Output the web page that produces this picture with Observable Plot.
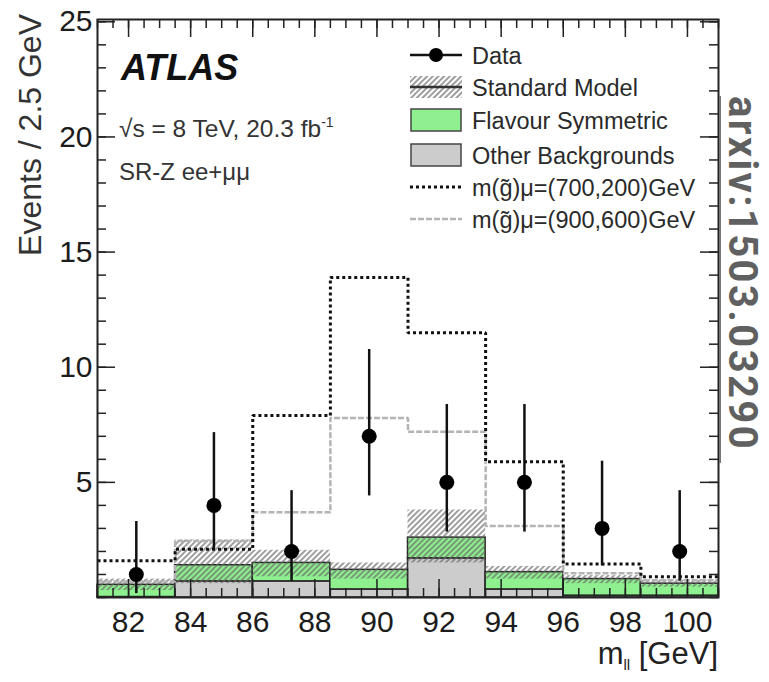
<!DOCTYPE html>
<html><head><meta charset="utf-8">
<script src="https://cdn.jsdelivr.net/npm/d3@7"></script>
<script src="https://cdn.jsdelivr.net/npm/@observablehq/plot@0.6"></script>
<style>
body{margin:0;background:#fff;}
#wrap{position:relative;width:769px;height:682px;font-family:"Liberation Sans",Arial,sans-serif;color:#1c1c1c;overflow:hidden;}
.abs{position:absolute;white-space:nowrap;line-height:1;}
.leg{position:absolute;left:410px;height:24px;width:300px;}
.leg svg{position:absolute;left:0;top:0;}
.leg span{position:absolute;left:62px;top:0px;font-size:23.5px;color:#2a2a2a;white-space:nowrap;}
</style></head><body><div id="wrap"></div>
<script>
// ---- data ----
const binEdges   = [81, 83.5, 86, 88.5, 91, 93.5, 96, 98.5, 101];
const binCenters = [82.25, 84.75, 87.25, 89.75, 92.25, 94.75, 97.25, 99.75];
const dataCounts = [1, 4, 2, 7, 5, 5, 3, 2];
const dataLow    = [0.17, 2.09, 0.71, 4.41, 2.84, 2.84, 1.37, 0.71];
const dataHigh   = [3.3, 7.16, 4.64, 10.77, 8.38, 8.38, 5.92, 4.64];
const otherBkg   = [0.02, 0.7, 0.7, 0.35, 1.7, 0.35, 0.08, 0.08];
const flavourSym = [0.53, 0.7, 0.8, 0.85, 0.9, 0.75, 0.72, 0.52];
const smLow      = [0.3, 0.6, 0.9, 0.8, 1.5, 0.8, 0.6, 0.45];
const smHigh     = [0.8, 2.5, 2.05, 1.5, 3.8, 1.35, 0.95, 0.75];
const sig700     = [1.6, 2.1, 7.9, 13.9, 11.5, 5.9, 1.45, 0.9];
const sig900     = [0.7, 2.45, 3.7, 7.8, 7.2, 3.1, 1.05, 0.75];
const xTickLabels = [82, 84, 86, 88, 90, 92, 94, 96, 98, 100];
const yTickLabels = [5, 10, 15, 20, 25];

// ---- tables built from the arrays ----
const bins = binCenters.map((c, i) => ({
  c, x1: binEdges[i], x2: binEdges[i + 1],
  other: otherBkg[i], total: otherBkg[i] + flavourSym[i],
  lo: dataLow[i], hi: dataHigh[i], n: dataCounts[i],
  smLo: smLow[i], smHi: smHigh[i]
}));
const steps = binEdges.map((e, i) => ({
  x: e,
  s700: sig700[Math.min(i, sig700.length - 1)],
  s900: sig900[Math.min(i, sig900.length - 1)]
}));

const W = 769, H = 682, mL = 97, mR = 51, mT = 19, mB = 85;
const fW = W - mL - mR, fH = H - mT - mB;
const majLen = 18, minLen = 9;
const xMinor = d3.range(81, 101.001, 0.5);
const yMinor = d3.range(0, 25.001, 1);
const tickStyle = {stroke: "#222", strokeWidth: 1.5};

const chart = Plot.plot({
  width: W, height: H,
  marginLeft: mL, marginRight: mR, marginTop: mT, marginBottom: mB,
  x: {domain: [81, 101]},
  y: {domain: [0, 25.1]},
  style: {fontFamily: "Liberation Sans, Arial, sans-serif", fontSize: "30px", color: "#1c1c1c", background: "transparent"},
  marks: [
    Plot.rectY(bins, {x1: "x1", x2: "x2", y1: 0, y2: "other", fill: "#cccccc", stroke: "#222", strokeWidth: 1.5}),
    Plot.rectY(bins, {x1: "x1", x2: "x2", y1: "other", y2: "total", fill: "#8ef08e", stroke: "#222", strokeWidth: 1.5}),
    Plot.rectY(bins, {x1: "x1", x2: "x2", y1: "smLo", y2: "smHi", fill: "url(#hatch)"}),
    Plot.line(steps, {x: "x", y: "s900", curve: "step-after", stroke: "#b4b4b4", strokeWidth: 2.5, strokeDasharray: "6,2", strokeLinecap: "butt", strokeLinejoin: "miter"}),
    Plot.line(steps, {x: "x", y: "s700", curve: "step-after", stroke: "#111", strokeWidth: 3, strokeDasharray: "3,3", strokeLinecap: "butt", strokeLinejoin: "miter"}),
    Plot.ruleX(bins, {x: "c", y1: "lo", y2: "hi", stroke: "#111", strokeWidth: 2.5}),
    Plot.dot(bins, {x: "c", y: "n", r: 7.5, fill: "#000"}),
    // inward ticks (ROOT style) on all four sides
    Plot.tickX(xMinor, {x: d => d, insetTop: fH - minLen, ...tickStyle}),
    Plot.tickX(xMinor, {x: d => d, insetBottom: fH - minLen, ...tickStyle}),
    Plot.tickX(xTickLabels, {x: d => d, insetTop: fH - majLen, ...tickStyle}),
    Plot.tickX(xTickLabels, {x: d => d, insetBottom: fH - majLen, ...tickStyle}),
    Plot.tickY(yMinor, {y: d => d, insetRight: fW - minLen, ...tickStyle}),
    Plot.tickY(yMinor, {y: d => d, insetLeft: fW - minLen, ...tickStyle}),
    Plot.tickY(yTickLabels, {y: d => d, insetRight: fW - majLen, ...tickStyle}),
    Plot.tickY(yTickLabels, {y: d => d, insetLeft: fW - majLen, ...tickStyle}),
    Plot.axisX({ticks: xTickLabels, tickSize: 0, tickPadding: 13, label: null, tickFormat: d => String(d), fontSize: 30}),
    Plot.axisY({ticks: yTickLabels, tickSize: 0, tickPadding: 5, label: null, tickFormat: d => String(d), fontSize: 30}),
    Plot.frame({stroke: "#222", strokeWidth: 2})
  ]
});

// hatch pattern for the SM uncertainty band
const svgSel = d3.select(chart);
const defs = svgSel.insert("defs", ":first-child");
const pat = defs.append("pattern").attr("id", "hatch").attr("patternUnits", "userSpaceOnUse")
  .attr("width", 4).attr("height", 4).attr("patternTransform", "rotate(45)");
pat.append("line").attr("x1", 1).attr("y1", 0).attr("x2", 1).attr("y2", 4)
  .attr("stroke", "#6a6a6a").attr("stroke-width", 1.3);

const wrap = document.getElementById("wrap");
chart.style.position = "absolute"; chart.style.left = "0"; chart.style.top = "0";
wrap.appendChild(chart);

function addDiv(html, css) {
  const d = document.createElement("div");
  d.className = "abs"; d.innerHTML = html; d.style.cssText += css;
  wrap.appendChild(d); return d;
}
// annotations
addDiv("ATLAS", "left:121px;top:50px;font-size:36px;font-weight:bold;font-style:italic;color:#111;");
addDiv("√s = 8 TeV, 20.3 fb<sup style='font-size:14px;vertical-align:10px'>-1</sup>", "left:119px;top:115px;font-size:24.5px;color:#333;");
addDiv("SR-Z ee+μμ", "left:119px;top:160px;font-size:24px;color:#333;");
addDiv("Events / 2.5 GeV", "left:30px;top:14px;font-size:32px;color:#333;transform-origin:0 0;transform:rotate(-90deg) translate(-100%,-50%);");
addDiv("m<sub style='font-size:15px;vertical-align:-6px'>ll</sub> [GeV]", "right:51px;top:638px;font-size:31px;color:#222;");
addDiv("arxiv:1503.03290", "left:722px;top:96px;width:40px;line-height:40px;font-size:40px;letter-spacing:2.4px;font-weight:bold;font-family:Roboto,'Liberation Sans',sans-serif;color:#606060;writing-mode:vertical-rl;");
addDiv("", "left:719px;top:96px;width:2px;height:367px;background:#777;");

// legend
const legendLabels = ["Data", "Standard Model", "Flavour Symmetric", "Other Backgrounds",
  "m(g̃)μ=(700,200)GeV", "m(g̃)μ=(900,600)GeV"];
const legendTops = [43, 75, 108, 143, 175, 207];
const swatches = [
  `<line x1="0" y1="12" x2="52" y2="12" stroke="#111" stroke-width="2.5"/><circle cx="26" cy="12" r="7" fill="#000"/>`,
  `<defs><pattern id="hatchL" patternUnits="userSpaceOnUse" width="4" height="4" patternTransform="rotate(45)"><line x1="1" y1="0" x2="1" y2="4" stroke="#6a6a6a" stroke-width="1.3"/></pattern></defs><rect x="0" y="1" width="52" height="22" fill="url(#hatchL)"/><line x1="0" y1="12" x2="52" y2="12" stroke="#333" stroke-width="2.5"/>`,
  `<rect x="1" y="1" width="50" height="22" fill="#8ef08e" stroke="#444" stroke-width="1.5"/>`,
  `<rect x="1" y="1" width="50" height="22" fill="#cccccc" stroke="#444" stroke-width="1.5"/>`,
  `<line x1="0" y1="12" x2="52" y2="12" stroke="#111" stroke-width="3" stroke-dasharray="3,3"/>`,
  `<line x1="0" y1="12" x2="52" y2="12" stroke="#b4b4b4" stroke-width="2.5" stroke-dasharray="6,2"/>`
];
legendLabels.forEach((lab, i) => {
  const d = document.createElement("div");
  d.className = "leg"; d.style.top = legendTops[i] + "px";
  d.innerHTML = `<svg width="54" height="24">${swatches[i]}</svg><span>${lab}</span>`;
  wrap.appendChild(d);
});
</script></body></html>
